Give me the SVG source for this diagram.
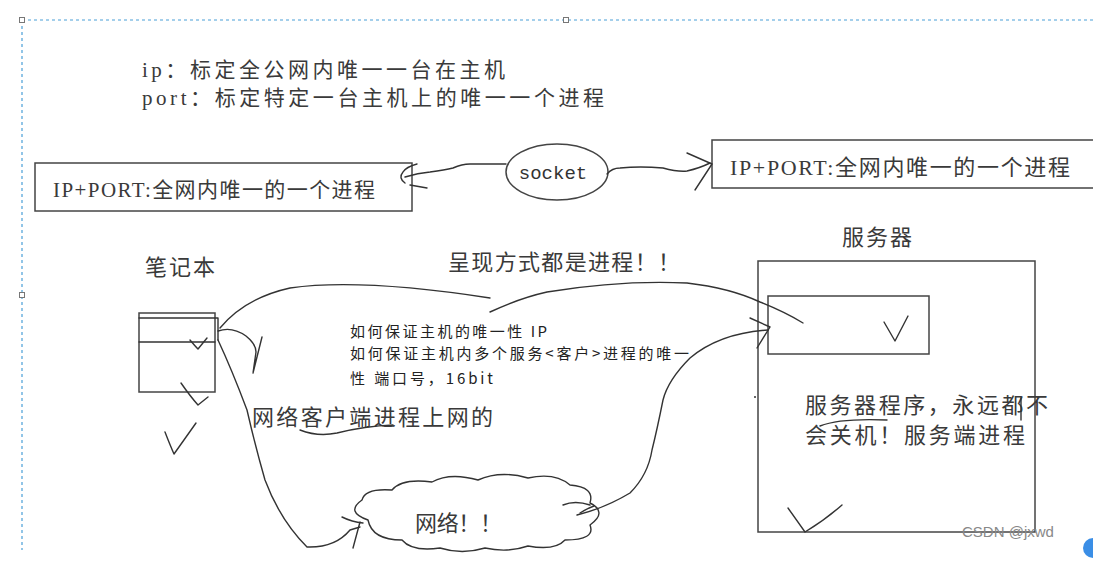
<svg xmlns="http://www.w3.org/2000/svg" width="1093" height="562" viewBox="0 0 1093 562">
<style>
.t{font-family:"Liberation Serif","Noto Sans CJK SC",serif;fill:#3a3a3a}
.s{font-family:"Noto Sans CJK SC",sans-serif;fill:#222}
.m{font-family:"Liberation Mono","Noto Sans CJK SC",monospace;fill:#333}
.box{fill:none;stroke:#444;stroke-width:1.5}
.ln{fill:none;stroke:#333;stroke-width:1.4;stroke-linecap:round;stroke-linejoin:round}
.dash{fill:none;stroke:#4a9fd8;stroke-width:1.2;stroke-dasharray:3 3}
.h{fill:#fff;stroke:#777;stroke-width:1}
</style>
<rect width="1093" height="562" fill="#fff"/>
<g id="frame">
<path class="dash" d="M22,20 H1093 M22,20 V550"/>
<rect class="h" x="19.5" y="17.5" width="5" height="5"/>
<rect class="h" x="563.5" y="17.5" width="5" height="5"/>
<rect class="h" x="19.5" y="292.5" width="5" height="5"/>
</g>
<g id="header">
<text class="t" x="142" y="77" font-size="21" textLength="363" lengthAdjust="spacing">ip：标定全公网内唯一一台在主机</text>
<text class="t" x="142" y="105" font-size="21" textLength="462" lengthAdjust="spacing">port：标定特定一台主机上的唯一一个进程</text>
</g>
<g id="box1">
<rect class="box" x="35" y="163" width="377" height="48"/>
<text class="t" x="53" y="197" font-size="21" textLength="322" lengthAdjust="spacing">IP+PORT:全网内唯一的一个进程</text>
</g>
<g id="socket">
<ellipse class="box" cx="557" cy="172" rx="51" ry="28"/>
<text class="m" x="553" y="179" font-size="19" text-anchor="middle">socket</text>
</g>
<g id="box2">
<path class="box" d="M1093,140 H712 V188 H1093"/>
<text class="t" x="730" y="175" font-size="22" textLength="340" lengthAdjust="spacing">IP+PORT:全网内唯一的一个进程</text>
</g>
<g id="laptop">
<text class="t" x="145" y="275" font-size="22" textLength="70" lengthAdjust="spacing">笔记本</text>
<rect class="box" x="139" y="313" width="76" height="79"/>
<path class="ln" d="M139,318 H215 M139,342 H215 M215,318 H218 V340"/>
<path class="ln" d="M190,340 Q195,346 198,349 L207,338"/>
<path class="ln" d="M181,383 Q190,396 198,405 L208,397"/>
<path class="ln" d="M165,432 Q170,445 174,454 L196,423"/>
</g>
<g id="server">
<text class="t" x="842" y="245" font-size="22" textLength="70" lengthAdjust="spacing">服务器</text>
<rect class="box" x="758" y="261" width="277" height="271"/>
<rect class="box" x="768" y="296" width="161" height="58"/>
<path class="ln" d="M884,322 L895,341 L908,316"/>
<text class="t" x="805" y="413" font-size="22" textLength="243" lengthAdjust="spacing">服务器程序，永远都不</text>
<text class="t" x="805" y="443" font-size="22" textLength="220" lengthAdjust="spacing">会关机！服务端进程</text>
<path class="ln" d="M820,426 Q840,418 887,420"/>
<path class="ln" d="M788,508 Q798,522 805,532 Q825,520 842,505"/>
<path class="ln" d="M1021,398 V420" stroke="#223"/>
<circle cx="755" cy="397" r="1" fill="#333"/>
</g>
<g id="labels">
<text class="t" x="448" y="270" font-size="22" textLength="232" lengthAdjust="spacing">呈现方式都是进程！！</text>
<text class="s" x="350" y="337" font-size="15" textLength="197" lengthAdjust="spacing">如何保证主机的唯一性 IP</text>
<text class="s" x="350" y="359" font-size="15" textLength="339" lengthAdjust="spacing">如何保证主机内多个服务&lt;客户&gt;进程的唯一</text>
<text class="s" x="350" y="384" font-size="15" textLength="143" lengthAdjust="spacing">性 端口号，16bit</text>
<text class="t" x="252" y="425" font-size="22" textLength="241" lengthAdjust="spacing">网络客户端进程上网的</text>
<path class="ln" d="M300,430 Q318,437 337,433 Q365,426 393,425"/>
</g>
<g id="cloud">
<path class="ln" d="M368,520 Q345,512 362,500 Q365,488 392,490 Q402,478 432,482 Q450,472 478,480 Q500,470 528,478 Q555,472 570,485 Q595,487 590,503 Q608,512 590,525 Q596,540 565,540 Q555,551 528,546 Q508,553 485,548 Q462,555 440,548 Q412,552 402,540 Q372,540 368,520 Z"/>
<path class="ln" d="M563,505 Q575,500 590,505 M580,513 Q588,508 594,506"/>
<text class="t" x="415" y="531" font-size="22" textLength="87" lengthAdjust="spacing">网络！！</text>
</g>
<g id="connectors">
<path class="ln" d="M405,177 Q418,173 430,172 Q445,170 453,168 Q462,164 470,164 L506,164"/>
<path class="ln" d="M417,164 Q406,167 403,172 Q398,178 405,183 M410,185 L427,188"/>
<path class="ln" d="M607,174 Q612,168 620,168 Q640,166 663,168 Q678,172 687,171 Q700,168 710,163"/>
<path class="ln" d="M687,153 L712,164 L695,190"/>
<path class="ln" d="M220,328 Q245,298 290,288 Q360,278 490,298"/>
<path class="ln" d="M490,312 Q520,298 547,292 Q620,280 687,283 Q730,288 760,302 Q785,312 803,323"/>
<path class="ln" d="M750,318 L770,327 L757,348"/>
<path class="ln" d="M768,330 Q720,333 690,358 Q668,380 663,400 Q657,430 652,450 Q648,475 630,493 Q605,508 577,515"/>
<path class="ln" d="M218,331 Q232,326 246,336 Q256,344 256,352 L253,373 L262,337"/>
<path class="ln" d="M218,340 Q232,370 247,410 Q255,445 265,480 Q280,520 307,547 Q335,548 350,530 L360,527"/>
<path class="ln" d="M342,517 Q352,522 363,523 M360,522 L353,548"/>
</g>
<g id="watermark">
<text x="962" y="537" font-family="Liberation Sans,sans-serif" font-size="15" fill="#888">CSDN @jxwd</text>
<circle cx="1093" cy="548" r="10" fill="#3a8ee6"/>
</g>
</svg>
